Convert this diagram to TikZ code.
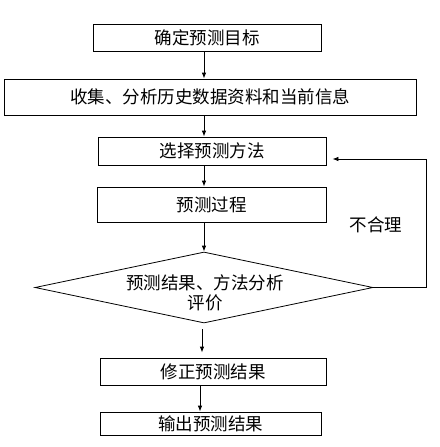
\documentclass[tikz,border=0pt]{standalone}
\usepackage{fontspec}
\setmainfont{Noto Sans CJK SC}
\usetikzlibrary{arrows.meta,shapes.geometric,calc}
\begin{document}
\begin{tikzpicture}[x=1pt,y=-1pt,
  box/.style={draw,line width=0.8pt,inner sep=0pt,font=\fontsize{17.5}{20}\selectfont},
  lbl/.style={inner sep=0pt,align=center,font=\fontsize{17.5}{20}\selectfont},
  arr/.style={draw,line width=0.8pt,-{Latex[length=6pt,width=4.5pt]}}]
\useasboundingbox[fill=white] (0,0) rectangle (439,447);
\node[box,minimum width=228pt,minimum height=27pt] (b1) at (207,37.5) {确定预测目标};
\node[box,minimum width=412pt,minimum height=36pt] (b2) at (210,97) {收集、分析历史数据资料和当前信息};
\node[box,minimum width=228pt,minimum height=28pt] (b3) at (212,151) {选择预测方法};
\node[box,minimum width=229pt,minimum height=35pt] (b4) at (211.5,204.5) {预测过程};
\node[draw,diamond,line width=0.8pt,inner sep=0pt,minimum width=338pt,minimum height=71pt] (d) at (204,287.5) {};
\node[lbl] (dt) at (205,293) {预测结果、方法分析\\评价};
\node[box,minimum width=226pt,minimum height=27pt] (b5) at (213,371.5) {修正预测结果};
\node[box,minimum width=221pt,minimum height=23pt] (b6) at (210.5,423.5) {输出预测结果};
\node[lbl] (no) at (376,225) {不合理};
\coordinate (ax) at (204,0);
\coordinate (bx) at (202,0);
\coordinate (cx) at (200,0);
\coordinate (rt) at (426,0);
\draw[arr] (b1.south -| ax) -- (b2.north -| ax);
\draw[arr] (b2.south -| ax) -- (b3.north -| ax);
\draw[arr] (b3.south -| ax) -- (b4.north -| ax);
\draw[arr] (b4.south -| ax) -- (d.north -| ax);
\draw[arr,shorten <=6pt,shorten >=5pt] (d.south -| bx) -- (b5.north -| bx);
\draw[arr] (b5.south -| cx) -- (b6.north -| cx);
\draw[arr,shorten >=6pt] (d.east) -- (d.east -| rt) -- ($(b3.east -| rt)+(0,8)$) -- ($(b3.east)+(0,8)$);
\end{tikzpicture}
\end{document}
